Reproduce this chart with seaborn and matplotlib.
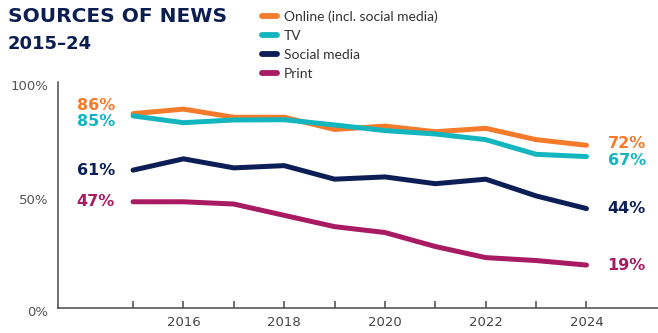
import matplotlib
matplotlib.use("Agg")
import matplotlib.pyplot as plt
import matplotlib.transforms as mtransforms
import seaborn as sns
import pandas as pd

years = [2015, 2016, 2017, 2018, 2019, 2020, 2021, 2022, 2023, 2024]
online = [86, 88, 84.4, 84.4, 79, 80.5, 78, 79.5, 74.5, 72]
tv = [85, 82, 83.2, 83.3, 81, 78.5, 77, 74.5, 68, 67]
social = [61, 66, 62, 63, 57, 58, 55, 57, 49.6, 44]
printed = [47, 47, 46, 41, 36, 33.4, 27.2, 22.3, 21, 19]

series_names = ["Online (incl. social media)", "TV", "Social media", "Print"]
series_values = [online, tv, social, printed]
colors = ["#F47B2B", "#13B6BF", "#0B1E56", "#A81A62"]

start_labels = ["86%", "85%", "61%", "47%"]
end_labels = ["72%", "67%", "44%", "19%"]
start_nudge = [3.6, -2.6, 0, 0]
end_nudge = [0.8, -1.8, 0, 0]

ytick_vals = [0, 50, 100]
ytick_labels = ["0%", "50%", "100%"]
xtick_labels = ["", "2016", "", "2018", "", "2020", "", "2022", "", "2024"]

rows = []
for name, vals in zip(series_names, series_values):
    for y, v in zip(years, vals):
        rows.append({"year": y, "value": v, "series": name})
df = pd.DataFrame(rows)

sns.set_theme(style="ticks")
plt.rcParams["font.family"] = ["DejaVu Sans"]

fig = plt.figure(figsize=(6.58, 3.33), dpi=100)
ax = fig.add_axes([58 / 658, 25 / 333, 600 / 658, 226 / 333])

palette = dict(zip(series_names, colors))
sns.lineplot(data=df, x="year", y="value", hue="series", hue_order=series_names,
             palette=palette, linewidth=3.6, ax=ax, legend=True,
             solid_capstyle="round", solid_joinstyle="round")

ax.set_xlim(2013.51, 2025.42)
ax.set_ylim(0, 100)
ax.set_xlabel("")
ax.set_ylabel("")

for s in ["top", "right"]:
    ax.spines[s].set_visible(False)
for s in ["left", "bottom"]:
    ax.spines[s].set_color("#4a4a4a")
    ax.spines[s].set_linewidth(1.1)

ax.set_xticks(years)
ax.set_xticklabels(xtick_labels)
ax.set_yticks(ytick_vals)
ax.set_yticklabels(ytick_labels)
ax.tick_params(axis="x", which="major", direction="in", length=5, width=1.1,
               color="#4a4a4a", pad=6, labelsize=9.5, labelcolor="#444444",
               bottom=True, top=False)
ax.tick_params(axis="y", length=0, pad=7, labelsize=9.5, labelcolor="#555555",
               left=True, right=False)
offset = mtransforms.ScaledTranslation(0, -3.5 / 100, fig.dpi_scale_trans)
for lab in ax.get_yticklabels():
    lab.set_transform(lab.get_transform() + offset)

for i, vals in enumerate(series_values):
    ax.text(2014.64, vals[0] + start_nudge[i], start_labels[i], color=colors[i],
            fontsize=11.5, fontweight="bold", ha="right", va="center")
    ax.text(2024.42, vals[-1] + end_nudge[i], end_labels[i], color=colors[i],
            fontsize=11.5, fontweight="bold", ha="left", va="center")

handles, labels = ax.get_legend_handles_labels()
ax.get_legend().remove()
for h in handles:
    h.set_linewidth(4.2)
    h.set_solid_capstyle("round")
leg = fig.legend(handles, labels, loc="upper left", bbox_to_anchor=(262 / 658, 1 - 10 / 333),
                 frameon=False, handlelength=1.05, handletextpad=0.5,
                 labelspacing=0.52, borderpad=0, borderaxespad=0,
                 prop={"family": "Lato", "size": 10})
for t in leg.get_texts():
    t.set_color("#333333")

fig.text(8 / 658, 1 - 7 / 333, "SOURCES OF NEWS", fontsize=14.5, fontweight="heavy",
         color="#0B1D51", ha="left", va="top")
fig.text(8 / 658, 1 - 35 / 333, "2015\u201324", fontsize=13, fontweight="heavy",
         color="#0B1D51", ha="left", va="top")

fig.savefig("out.png", dpi=100)
